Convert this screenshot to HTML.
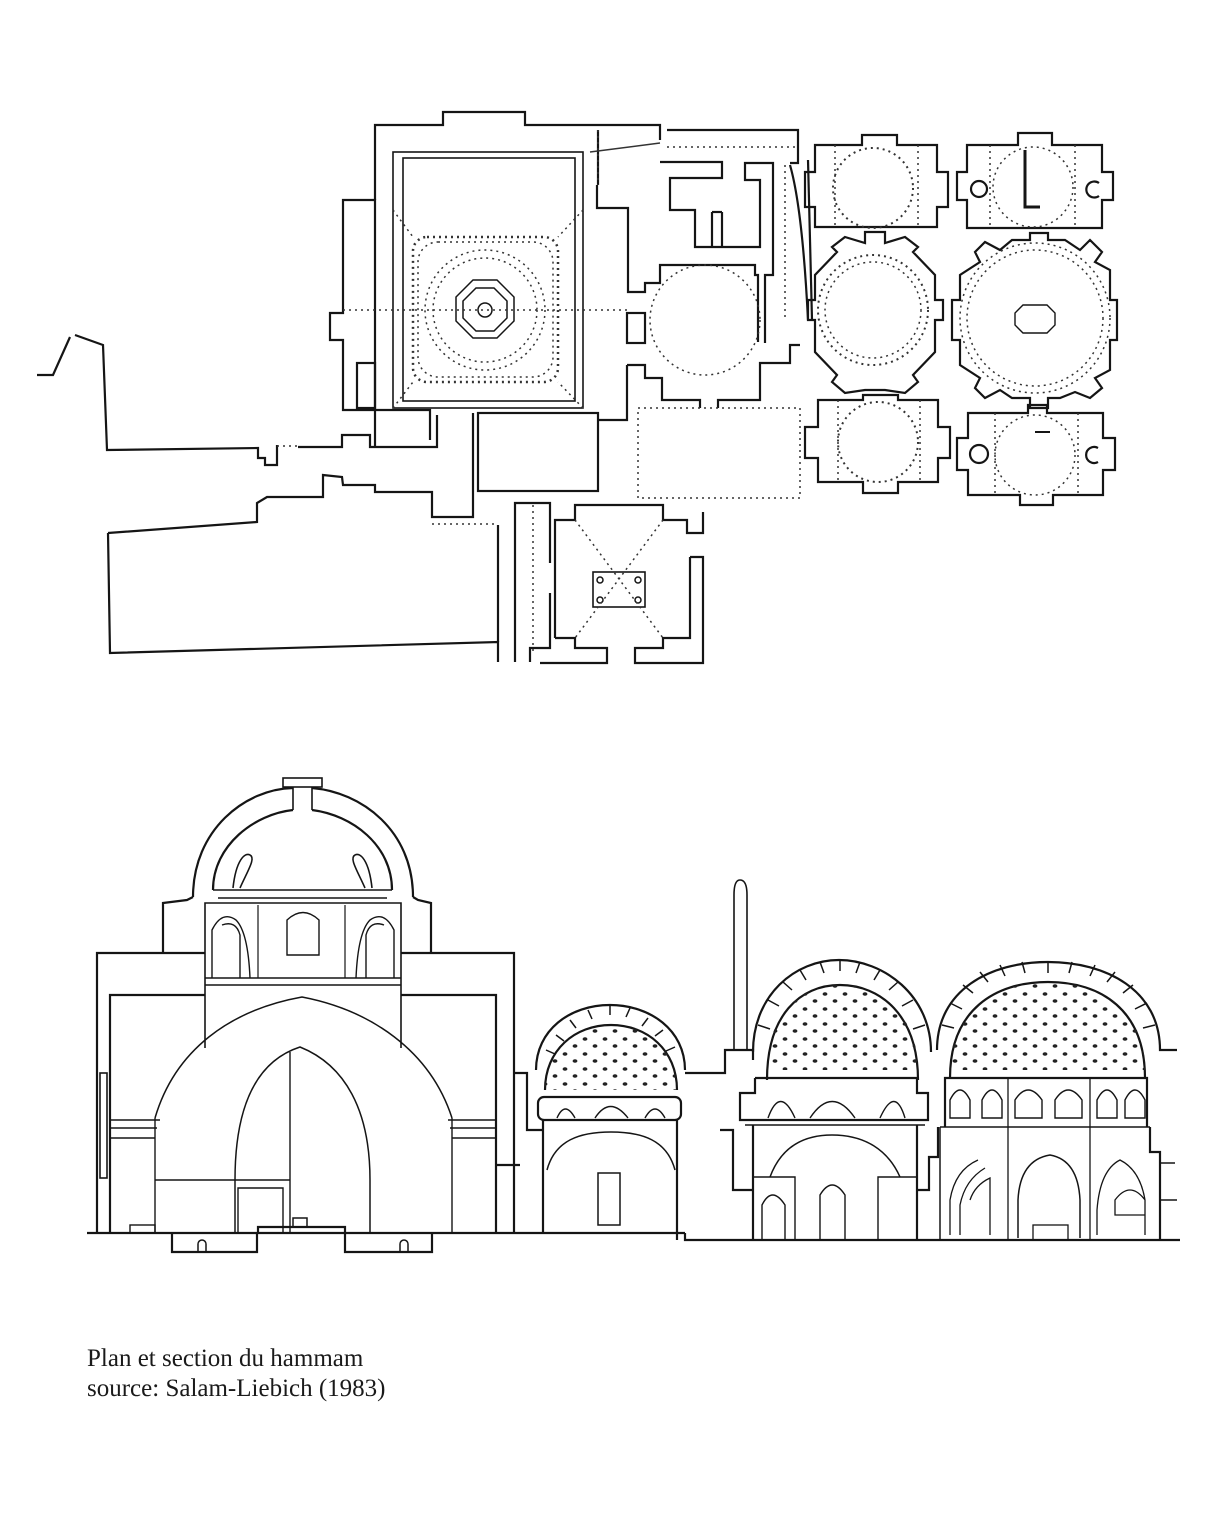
<!DOCTYPE html>
<html><head><meta charset="utf-8"><style>
html,body{margin:0;padding:0;background:#fff}
svg{display:block}
.t{font-family:"Liberation Serif",serif;font-size:25px;fill:#1a1a1a}
</style></head><body>
<svg width="1230" height="1535" viewBox="0 0 1230 1535" xmlns="http://www.w3.org/2000/svg">
<defs>
<pattern id="dots" width="20" height="15" patternUnits="userSpaceOnUse">
<ellipse cx="5" cy="4" rx="2.4" ry="1.8" fill="#222"/><ellipse cx="15" cy="11" rx="2.4" ry="1.8" fill="#222"/>
</pattern>
<clipPath id="c2"><path d="M545,1090 C545,1050 575,1025 611,1025 C647,1025 677,1050 677,1090Z"/></clipPath>
<clipPath id="c3"><path d="M767,1070 C767,1015 800,985 840,985 C880,985 918,1015 918,1070Z"/></clipPath>
<clipPath id="c4"><path d="M950,1070 C950,1010 995,982 1048,982 C1101,982 1145,1010 1145,1070Z"/></clipPath>
</defs>
<g fill="none" stroke="#151515" stroke-width="2.2" stroke-linejoin="miter">
<polyline points="37,375 53,375 70,337"/>
<polyline points="75,335 103,345 107,450 258,448 258,458 265,458 265,465 277,465 277,445"/>
<polyline points="298,447 325,447 342,447 342,435 370,435 370,447 437,447 437,415"/>
<polyline points="108,533 257,522 257,503 267,497 323,497 323,475 342,477 343,485 375,485 375,492 432,492 432,517 473,517 473,413"/>
<polyline points="108,533 110,653 498,642 498,662"/>
<line x1="498" y1="525" x2="498" y2="642"/>
<polyline points="375,447 375,413 375,200 343,200 343,313 330,313 330,340 343,340 343,410 375,410"/>
<polyline points="375,200 375,125 443,125 443,112 525,112 525,125 660,125 660,140"/>
<rect x="357" y="363" width="18" height="45"/>
<polyline points="598,130 598,185"/>
<rect x="393" y="152" width="190" height="256" stroke-width="1.6"/>
<rect x="403" y="158" width="172" height="243" stroke-width="1.6"/>
<polyline points="375,410 430,410 430,440" />
<rect x="478" y="413" width="120" height="78"/>
<polygon points="473,280 497,280 514,297 514,321 497,338 473,338 456,321 456,297" stroke-width="1.5"/>
<polygon points="476,288 494,288 507,301 507,318 494,331 476,331 463,318 463,301" stroke-width="1.5"/>
<circle cx="485" cy="310" r="7" stroke-width="1.5"/>
<polyline points="667,130 798,130 798,163 790,163"/>
<polyline points="660,162 722,162 722,178 670,178 670,210 695,210 695,247 760,247 760,180 745,180 745,163 773,163 773,275 765,275 765,343"/>
<line x1="712" y1="212" x2="712" y2="247"/><line x1="712" y1="212" x2="722" y2="212"/><line x1="722" y1="212" x2="722" y2="247"/>
<polyline points="597,185 597,208 628,208 628,292 645,292 645,283 660,283 660,265 755,265 755,275 758,275 758,342"/>
<rect x="627" y="313" width="18" height="30"/>
<polyline points="627,365 645,365 645,378 662,378 662,400 700,400 700,408"/>
<polyline points="718,408 718,400 760,400 760,363 790,363 790,345 800,345"/>
<polyline points="627,365 627,420 598,420"/>
<path d="M790,165 C800,200 805,260 808,320" />
<line x1="808" y1="160" x2="812" y2="320"/>
<polyline points="515,662 515,503 550,503 550,563"/>
<polyline points="550,593 550,648 530,648 530,662"/>
<polyline points="555,638 555,520 575,520 575,505 663,505 663,520 687,520 687,533 703,533 703,512"/>
<polyline points="690,557 703,557 703,663 635,663 635,648 663,648 663,638 690,638 690,557"/>
<polyline points="555,638 575,638 575,648 607,648 607,663 540,663"/>
<rect x="593" y="572" width="52" height="35" stroke-width="1.6"/>
<circle cx="600" cy="580" r="3" stroke-width="1.5"/><circle cx="638" cy="580" r="3" stroke-width="1.5"/>
<circle cx="600" cy="600" r="3" stroke-width="1.5"/><circle cx="638" cy="600" r="3" stroke-width="1.5"/>
<polygon points="815,145 862,145 862,135 897,135 897,145 937,145 937,172 948,172 948,207 937,207 937,227 815,227 815,207 805,207 805,172 815,172"/>
<polygon points="967,145 1018,145 1018,133 1052,133 1052,145 1102,145 1102,172 1113,172 1113,200 1102,200 1102,228 967,228 967,200 957,200 957,172 967,172"/>
<polygon points="818,400 863,400 863,395 898,395 898,400 938,400 938,427 950,427 950,458 938,458 938,482 898,482 898,493 863,493 863,482 818,482 818,458 805,458 805,427 818,427"/>
<polygon points="968,413 1028,413 1028,405 1047,405 1047,413 1103,413 1103,438 1115,438 1115,470 1103,470 1103,495 1053,495 1053,505 1020,505 1020,495 968,495 968,470 957,470 957,438 968,438"/>
<polygon points="845,237 865,243 865,232 885,232 885,243 905,237 918,247 913,252 935,275 935,300 943,300 943,320 935,320 935,352 913,375 918,382 905,393 885,390 865,390 845,393 832,382 837,375 815,352 815,320 808,320 808,300 815,300 815,275 837,252 832,247"/>
<polygon points="985,242 1000,250 1012,240 1030,240 1030,233 1048,233 1048,240 1065,240 1080,250 1090,240 1102,252 1095,262 1110,270 1110,300 1117,300 1117,340 1110,340 1110,370 1095,378 1102,388 1090,398 1075,392 1060,398 1048,398 1048,408 1030,408 1030,398 1012,398 1000,390 985,398 975,388 980,378 960,365 960,340 952,340 952,300 960,300 960,275 980,262 975,252"/>
<polygon points="1023,305 1047,305 1055,313 1055,325 1047,333 1023,333 1015,325 1015,313" stroke-width="1.4"/>
<circle cx="979" cy="189" r="8"/><path d="M1099,183 A8,8 0 1,0 1099,196"/>
<circle cx="979" cy="454" r="9"/><path d="M1098,448 A8,8 0 1,0 1098,462"/>
<polyline points="1025,150 1025,207 1040,207" stroke-width="3"/>
<polyline points="1035,432 1050,432 M1043,432 L1043,490" stroke-width="2"/>
<line x1="87" y1="1233" x2="685" y2="1233"/>
<polyline points="685,1233 685,1240 1180,1240"/>
<polyline points="172,1233 172,1252 257,1252 257,1233"/>
<polyline points="258,1233 258,1227 345,1227 345,1252 432,1252 432,1233"/>
<path d="M198,1252 v-8 a4,4 0 0,1 8,0 v8 M400,1252 v-8 a4,4 0 0,1 8,0 v8" stroke-width="1.5"/>
<rect x="293" y="1218" width="14" height="9" stroke-width="1.5"/>
<polyline points="97,1233 97,953 205,953"/>
<polyline points="110,1233 110,995 205,995"/>
<rect x="100" y="1073" width="7" height="105" stroke-width="1.6"/>
<polyline points="514,1233 514,953 401,953"/>
<polyline points="496,1233 496,995 401,995"/>
<polyline points="514,1073 527,1073 527,1130 543,1130"/>
<polyline points="496,1165 520,1165"/>
<rect x="283" y="778" width="39" height="9" stroke-width="1.6"/>
<path d="M293,787 V810 M312,787 V810" stroke-width="1.6"/>
<path d="M193,897 C193,830 245,789 293,788 M312,788 C361,792 413,830 413,897"/>
<path d="M213,890 C213,845 255,814 293,810 M312,810 C352,815 392,845 392,890"/>
<polyline points="163,953 163,903 187,900 193,897"/>
<polyline points="431,953 431,903 418,900 413,897"/>
<line x1="213" y1="890" x2="392" y2="890" stroke-width="1.5"/>
<line x1="218" y1="898" x2="387" y2="898" stroke-width="1.5"/>
<path d="M233,888 C236,860 245,852 250,855 C256,858 248,870 240,888" stroke-width="1.6"/>
<path d="M372,888 C369,860 360,852 355,855 C349,858 357,870 365,888" stroke-width="1.6"/>
<polyline points="205,1048 205,903 401,903 401,1048" stroke-width="1.6"/>
<line x1="205" y1="978" x2="401" y2="978" stroke-width="1.5"/>
<line x1="205" y1="985" x2="401" y2="985" stroke-width="1.5"/>
<path d="M212,978 V930 Q222,910 236,920 Q248,932 250,978 M240,978 V935 Q236,920 222,925" stroke-width="1.4"/>
<path d="M394,978 V930 Q384,910 370,920 Q358,932 356,978 M366,978 V935 Q370,920 384,925" stroke-width="1.4"/>
<path d="M287,955 V920 Q303,905 319,920 V955 Z" stroke-width="1.4"/>
<line x1="258" y1="905" x2="258" y2="978" stroke-width="1.2"/><line x1="345" y1="905" x2="345" y2="978" stroke-width="1.2"/>
<path d="M155,1118 C175,1050 230,1010 302,997 C370,1010 430,1050 452,1118" stroke-width="1.5"/>
<path d="M235,1180 C235,1100 260,1060 300,1047 C345,1065 370,1110 370,1180 V1233" stroke-width="1.5"/>
<line x1="235" y1="1180" x2="235" y2="1233" stroke-width="1.5"/>
<line x1="290" y1="1052" x2="290" y2="1233" stroke-width="1.4"/>
<line x1="155" y1="1118" x2="155" y2="1233" stroke-width="1.4"/>
<line x1="452" y1="1118" x2="452" y2="1233" stroke-width="1.4"/>
<path d="M110,1120 H160 M110,1128 H157 M110,1138 H155 M448,1120 H496 M450,1128 H496 M452,1138 H496" stroke-width="1.4"/>
<path d="M155,1180 H290 M238,1233 V1188 H283 V1233" stroke-width="1.4"/>
<rect x="130" y="1225" width="25" height="8" stroke-width="1.4"/>
<path d="M536,1070 C536,1030 570,1005 610,1005 C650,1005 685,1030 685,1070"/>
<path d="M545,1090 C545,1050 575,1025 611,1025 C647,1025 677,1050 677,1090"/>
<rect x="538" y="1097" width="143" height="23" rx="6"/>
<line x1="543" y1="1120" x2="543" y2="1233"/><line x1="677" y1="1120" x2="677" y2="1240"/>
<path d="M547,1170 C555,1140 580,1132 611,1132 C642,1132 667,1140 675,1170" stroke-width="1.5"/>
<rect x="598" y="1173" width="22" height="52" stroke-width="1.5"/>
<path d="M557,1118 Q565,1100 575,1118 M595,1118 Q610,1095 628,1118 M645,1118 Q655,1100 665,1118" stroke-width="1.4"/>
<polyline points="685,1073 725,1073 725,1050 753,1050 753,1060"/>
<path d="M734,1050 V895 Q734,880 740,880 Q747,880 747,895 V1050" stroke-width="1.6"/>
<path d="M753,1052 C753,995 795,960 839,960 C883,960 931,995 931,1052"/>
<path d="M767,1080 C767,1015 800,985 840,985 C880,985 918,1015 918,1080"/>
<polyline points="755,1078 917,1078" />
<path d="M755,1078 V1093 H740 V1120 H928 V1093 H917 V1078"/>
<line x1="745" y1="1125" x2="925" y2="1125" stroke-width="1.5"/>
<line x1="753" y1="1125" x2="753" y2="1240"/><line x1="917" y1="1125" x2="917" y2="1240"/>
<polyline points="720,1130 733,1130 733,1190 753,1190"/>
<path d="M770,1177 C780,1150 800,1135 832,1135 C865,1135 888,1150 900,1177" stroke-width="1.5"/>
<path d="M754,1177 H795 V1240 M878,1240 V1177 H917" stroke-width="1.4"/>
<path d="M820,1240 V1195 Q832,1175 845,1195 V1240" stroke-width="1.4"/>
<path d="M762,1240 V1205 Q772,1185 785,1205 V1240" stroke-width="1.4"/>
<path d="M768,1118 Q780,1085 795,1118 M810,1118 Q832,1085 855,1118 M880,1118 Q895,1085 905,1118" stroke-width="1.4"/>
<path d="M937,1050 C937,990 990,962 1048,962 C1106,962 1160,990 1160,1050 H1177"/>
<path d="M950,1078 C950,1010 995,982 1048,982 C1101,982 1145,1010 1145,1078"/>
<polyline points="917,1190 929,1190 929,1157 938,1157 938,1127"/>
<polyline points="945,1127 945,1078 1147,1078 1147,1127"/>
<line x1="940" y1="1127" x2="1150" y2="1127" stroke-width="1.5"/>
<polyline points="1150,1127 1150,1152 1160,1152 1160,1240"/>
<path d="M1160,1163 H1175 M1160,1200 H1177" stroke-width="1.6"/>
<line x1="940" y1="1127" x2="940" y2="1240" stroke-width="1.5"/>
<line x1="1008" y1="1078" x2="1008" y2="1240" stroke-width="1.3"/>
<line x1="1090" y1="1078" x2="1090" y2="1240" stroke-width="1.3"/>
<path d="M950,1118 V1100 Q960,1080 970,1100 V1118 Z M982,1118 V1100 Q992,1080 1002,1100 V1118 Z M1015,1118 V1100 Q1028,1080 1042,1100 V1118 Z M1055,1118 V1100 Q1068,1080 1082,1100 V1118 Z M1097,1118 V1100 Q1107,1080 1117,1100 V1118 Z M1125,1118 V1100 Q1135,1080 1145,1100 V1118 Z" stroke-width="1.4"/>
<path d="M1018,1238 V1200 Q1020,1160 1050,1155 Q1078,1160 1080,1200 V1238" stroke-width="1.5"/>
<path d="M950,1235 V1200 Q955,1170 978,1160 M960,1235 V1205 Q965,1180 985,1168 M970,1200 Q975,1185 990,1178 V1235" stroke-width="1.3"/>
<path d="M1145,1235 V1200 Q1140,1170 1120,1160 Q1100,1170 1097,1210 V1235 M1145,1200 Q1130,1180 1115,1200 V1215 H1145" stroke-width="1.3"/>
<rect x="1033" y="1225" width="35" height="15" stroke-width="1.3"/>
<g stroke-width="1.5">
<path d="M546,1050 l9,4 M556,1035 l8,6 M570,1020 l6,8 M588,1010 l4,9 M610,1005 v10 M630,1008 l-4,9 M648,1018 l-6,8 M663,1030 l-8,6 M675,1047 l-9,4"/>
<path d="M758,1025 l12,4 M768,1000 l11,6 M783,982 l9,8 M800,970 l6,10 M820,962 l4,11 M840,960 v11 M860,962 l-4,11 M880,970 l-6,10 M898,982 l-9,8 M913,1000 l-11,6 M925,1025 l-12,4"/>
<path d="M942,1025 l12,3 M950,1003 l12,6 M963,985 l10,8 M980,972 l8,10 M1000,965 l5,11 M1022,962 l3,11 M1048,962 v11 M1072,962 l-3,11 M1095,965 l-5,11 M1115,972 l-8,10 M1133,985 l-10,8 M1147,1003 l-12,6 M1155,1025 l-12,3"/>
</g>
</g>
<g fill="none" stroke="#333" stroke-width="1.5" stroke-dasharray="2 4">
<rect x="413" y="237" width="145" height="145" rx="14" stroke-width="2.5"/>
<rect x="418" y="242" width="135" height="135" rx="20"/>
<circle cx="485" cy="310" r="60"/>
<circle cx="485" cy="310" r="52"/>
<path d="M393,210 L413,237 M583,210 L558,237 M393,408 L413,382 M583,408 L558,382"/>
<line x1="343" y1="310" x2="628" y2="310"/>
<line x1="598" y1="130" x2="598" y2="185"/>
<line x1="590" y1="152" x2="660" y2="143" stroke-dasharray="none"/>
<line x1="667" y1="147" x2="798" y2="147"/>
<rect x="638" y="408" width="162" height="90"/>
<circle cx="705" cy="320" r="55"/>
<line x1="432" y1="524" x2="498" y2="524"/>
<line x1="277" y1="446" x2="298" y2="446"/>
<path d="M575,520 L663,638 M663,520 L575,638 M533,505 V655"/>
<circle cx="873" cy="188" r="40" stroke-width="2"/>
<circle cx="1033" cy="187" r="40"/>
<circle cx="873" cy="310" r="55" stroke-width="2"/>
<circle cx="873" cy="310" r="48"/>
<circle cx="1035" cy="318" r="75"/>
<circle cx="1035" cy="318" r="68"/>
<circle cx="878" cy="442" r="40" stroke-width="2"/>
<circle cx="1035" cy="455" r="40"/>
<path d="M835,145 V227 M918,145 V227 M990,145 V228 M1075,145 V228 M838,400 V482 M920,400 V482 M995,413 V495 M1078,413 V495"/>
<line x1="785" y1="165" x2="785" y2="320"/>
</g>
<rect x="540" y="1020" width="145" height="75" fill="url(#dots)" clip-path="url(#c2)"/>
<rect x="760" y="980" width="165" height="95" fill="url(#dots)" clip-path="url(#c3)"/>
<rect x="945" y="975" width="205" height="100" fill="url(#dots)" clip-path="url(#c4)"/>
<text class="t" x="87" y="1366">Plan et section du hammam</text>
<text class="t" x="87" y="1396">source: Salam-Liebich (1983)</text>
</svg>
</body></html>
